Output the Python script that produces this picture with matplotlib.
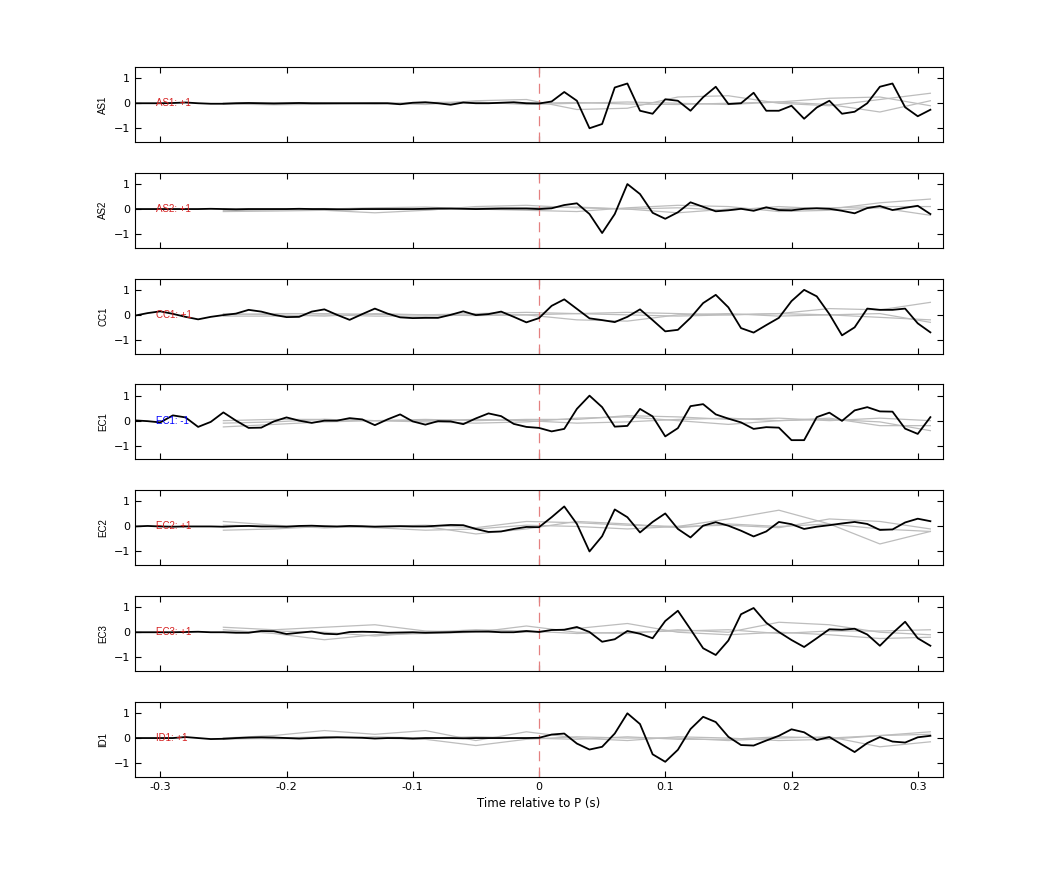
import numpy as np
import matplotlib.pyplot as plt

# time axis: -0.32 .. 0.31 s, 0.01 s steps
t = np.round(np.arange(-32, 32) * 0.01, 2)
t_gray = np.round(np.arange(-25, 32, 4) * 0.01, 2)

stations = ['AS1', 'AS2', 'CC1', 'EC1', 'EC2', 'EC3', 'ID1']
polarity = ['+1', '+1', '+1', '-1', '+1', '+1', '+1']

as1 = [0.0, 0.0, 0.0, 0.01, 0.03, 0.0, -0.02, -0.02, 0.0, 0.01, 0.0, -0.01, 0.0, 0.01, 0.0, 0.0,
       0.0, 0.0, 0.0, 0.0, 0.0, -0.04, 0.02, 0.04, 0.0, -0.06, 0.03, 0.0, 0.0, 0.02, 0.04, 0.0,
       -0.01, 0.07, 0.45, 0.1, -1.0, -0.83, 0.63, 0.79, -0.3, -0.42, 0.16, 0.1, -0.3, 0.24, 0.66, -0.03,
       0.0, 0.42, -0.3, -0.3, -0.1, -0.62, -0.17, 0.1, -0.42, -0.34, 0.0, 0.66, 0.79, -0.16, -0.52, -0.26]
as2 = [0.0, 0.0, 0.0, 0.0, 0.0, 0.0, 0.01, 0.0, -0.01, 0.0, 0.0, 0.0, 0.0, 0.01, 0.0, 0.0,
       -0.01, -0.01, 0.0, 0.0, 0.0, 0.0, 0.0, 0.01, 0.02, 0.02, 0.01, 0.0, 0.01, 0.02, 0.02, 0.02,
       0.0, 0.03, 0.16, 0.23, -0.2, -0.96, -0.2, 1.0, 0.6, -0.15, -0.39, -0.13, 0.27, 0.09, -0.09, -0.05,
       0.01, -0.07, 0.07, -0.04, -0.05, 0.01, 0.03, 0.01, -0.07, -0.17, 0.04, 0.12, -0.04, 0.05, 0.13, -0.2]
cc1 = [-0.03, 0.07, 0.14, 0.04, -0.08, -0.18, -0.08, -0.01, 0.05, 0.2, 0.13, 0.0, -0.09, -0.08, 0.13, 0.22,
       0.0, -0.2, 0.03, 0.25, 0.05, -0.1, -0.13, -0.12, -0.12, 0.0, 0.14, -0.01, 0.03, 0.13, -0.08, -0.3,
       -0.13, 0.36, 0.62, 0.24, -0.14, -0.21, -0.29, -0.08, 0.22, -0.21, -0.66, -0.6, -0.12, 0.47, 0.8, 0.3,
       -0.53, -0.71, -0.41, -0.12, 0.55, 1.0, 0.74, 0.03, -0.82, -0.5, 0.25, 0.2, 0.2, 0.25, -0.34, -0.7]
ec1 = [0.01, -0.02, -0.07, 0.21, 0.13, -0.25, -0.05, 0.33, 0.0, -0.29, -0.28, -0.03, 0.13, 0.0, -0.09, 0.0,
       0.0, 0.1, 0.05, -0.18, 0.05, 0.25, -0.03, -0.16, -0.02, -0.03, -0.14, 0.09, 0.29, 0.18, -0.13, -0.25,
       -0.29, -0.43, -0.33, 0.47, 1.0, 0.54, -0.24, -0.21, 0.47, 0.17, -0.63, -0.3, 0.58, 0.66, 0.25, 0.08,
       -0.07, -0.33, -0.26, -0.28, -0.78, -0.78, 0.14, 0.32, -0.01, 0.41, 0.54, 0.37, 0.36, -0.32, -0.53, 0.14]
ec2 = [0.0, 0.02, 0.0, -0.01, 0.0, 0.0, 0.0, -0.01, 0.01, 0.02, 0.0, 0.0, -0.01, 0.02, 0.03, 0.01,
       0.0, 0.02, 0.01, -0.01, 0.0, 0.01, 0.0, 0.0, 0.03, 0.06, 0.05, -0.1, -0.22, -0.2, -0.1, -0.02,
       -0.03, 0.37, 0.8, 0.1, -1.0, -0.39, 0.68, 0.37, -0.24, 0.18, 0.52, -0.1, -0.44, 0.03, 0.17, 0.03,
       -0.17, -0.4, -0.2, 0.18, 0.09, -0.1, -0.01, 0.05, 0.12, 0.18, 0.1, -0.14, -0.12, 0.16, 0.31, 0.21]
ec3 = [0.0, 0.0, 0.0, 0.0, 0.01, 0.02, 0.0, 0.0, -0.02, -0.02, 0.05, 0.04, -0.07, -0.02, 0.03, -0.06,
       -0.08, 0.01, 0.02, 0.01, -0.02, -0.01, 0.0, -0.02, -0.01, 0.0, 0.02, 0.03, 0.03, 0.0, 0.0, 0.05,
       0.01, 0.09, 0.1, 0.21, 0.01, -0.38, -0.28, 0.05, -0.06, -0.24, 0.45, 0.86, 0.12, -0.64, -0.91, -0.33,
       0.72, 0.97, 0.38, 0.01, -0.31, -0.59, -0.24, 0.12, 0.1, 0.14, -0.09, -0.54, -0.04, 0.42, -0.24, -0.54]
id1 = [0.0, 0.0, 0.0, 0.0, 0.04, 0.0, -0.04, -0.03, 0.0, 0.02, 0.03, 0.02, 0.0, -0.02, 0.0, 0.02,
       0.03, 0.02, 0.01, -0.02, 0.0, 0.0, -0.02, 0.0, 0.0, 0.0, -0.01, 0.0, 0.0, 0.0, 0.0, 0.0,
       0.01, 0.14, 0.18, -0.22, -0.46, -0.35, 0.18, 0.99, 0.56, -0.65, -0.95, -0.47, 0.36, 0.85, 0.64, 0.05,
       -0.28, -0.3, -0.1, 0.09, 0.35, 0.23, -0.08, 0.04, -0.26, -0.56, -0.2, 0.04, -0.14, -0.18, 0.03, 0.09]
traces = [as1, as2, cc1, ec1, ec2, ec3, id1]

# other stations' traces (grey), coarse samples
gray = [
    [[0.0, -0.02, 0.0, 0.02, -0.05, 0.1, 0.15, -0.25, -0.2, 0.25, 0.3, 0.0, -0.1, 0.15, 0.4],
     [-0.03, -0.06, -0.04, 0.0, 0.03, 0.05, -0.05, 0.0, 0.05, 0.0, -0.05, 0.05, 0.2, 0.25, -0.1],
     [0.0, 0.02, 0.0, -0.03, 0.0, 0.02, 0.0, 0.03, -0.03, -0.05, 0.0, 0.05, -0.05, -0.35, 0.1]],
    [[-0.1, -0.08, -0.05, -0.15, -0.05, 0.1, 0.15, 0.05, 0.0, 0.05, -0.05, 0.1, 0.0, 0.25, 0.4],
     [-0.06, -0.04, 0.0, 0.05, 0.08, 0.0, -0.05, -0.1, 0.05, 0.15, 0.1, -0.1, -0.05, 0.05, -0.25],
     [0.0, 0.0, 0.02, 0.0, -0.03, 0.04, 0.05, 0.08, 0.0, -0.15, 0.0, 0.02, 0.05, 0.1, 0.1]],
    [[0.0, 0.05, 0.05, 0.02, 0.0, 0.05, 0.1, 0.05, 0.0, -0.05, 0.0, 0.05, 0.25, 0.2, 0.5],
     [-0.05, -0.05, 0.0, -0.05, -0.05, 0.0, 0.0, -0.2, -0.25, 0.0, 0.05, -0.05, 0.0, 0.05, -0.3],
     [0.05, 0.0, -0.05, 0.05, 0.0, -0.03, 0.0, 0.05, 0.1, 0.05, 0.0, 0.05, 0.0, -0.1, -0.2]],
    [[0.0, 0.05, 0.05, 0.0, 0.05, 0.0, 0.05, 0.05, 0.2, 0.15, 0.05, 0.1, 0.0, 0.1, 0.0],
     [-0.25, -0.15, -0.05, 0.0, -0.05, -0.1, -0.05, 0.1, 0.15, 0.0, -0.15, 0.0, 0.05, -0.05, -0.4],
     [-0.1, -0.05, 0.05, 0.0, 0.0, 0.05, 0.0, -0.1, -0.05, 0.05, 0.1, 0.0, 0.1, -0.2, -0.2]],
    [[0.2, 0.05, -0.05, 0.0, 0.05, -0.05, 0.2, 0.15, 0.05, 0.0, 0.3, 0.65, 0.1, -0.7, -0.2],
     [-0.15, -0.1, 0.0, -0.05, -0.15, -0.1, 0.05, 0.0, -0.1, 0.0, 0.05, -0.05, 0.3, 0.2, -0.1],
     [0.05, 0.0, -0.05, 0.0, 0.0, -0.3, -0.1, 0.2, 0.1, -0.05, 0.1, 0.0, 0.1, -0.1, -0.2]],
    [[0.2, 0.1, 0.2, 0.3, 0.05, 0.0, 0.25, 0.0, -0.05, 0.1, 0.0, 0.4, 0.3, 0.0, -0.1],
     [0.1, -0.05, -0.3, -0.1, -0.05, 0.0, 0.0, 0.15, 0.35, 0.0, -0.1, 0.0, -0.1, -0.25, -0.2],
     [0.0, 0.05, 0.0, -0.15, 0.0, 0.1, 0.05, -0.05, 0.0, 0.05, 0.1, -0.05, 0.05, 0.05, 0.1]],
    [[0.0, 0.1, 0.3, 0.15, 0.3, -0.1, 0.25, 0.0, -0.1, 0.05, 0.0, -0.1, -0.05, 0.1, 0.15],
     [-0.05, 0.0, 0.05, 0.0, -0.05, -0.3, -0.05, 0.05, 0.0, 0.0, -0.1, 0.0, 0.05, -0.35, -0.15],
     [0.0, -0.03, 0.0, 0.05, 0.0, 0.05, 0.0, -0.05, 0.05, -0.05, -0.05, 0.05, 0.0, 0.1, 0.25]],
]

fig = plt.figure(figsize=(10.42, 8.75), dpi=100)
left, width, h, pitch, top0 = 135 / 1042, 808 / 1042, 75 / 875, 105.8 / 875, 67 / 875

for i, name in enumerate(stations):
    ax = fig.add_axes([left, 1 - top0 - i * pitch - h, width, h])
    for g in gray[i]:
        ax.plot(t_gray, g, color='#bdbdbd', lw=0.9)
    ax.axvline(0, color='#e48080', lw=0.9, ls=(0, (8, 5)))
    ax.plot(t, traces[i], color='black', lw=1.3)
    col = 'blue' if polarity[i] == '-1' else '#d62020'
    ax.text(-0.303, 0, f'{name}: {polarity[i]}', color=col, fontsize=7, va='center',
            family='Liberation Sans')
    ax.set_xlim(-0.32, 0.32)
    ax.set_ylim(-1.55, 1.45)
    ax.set_yticks([-1, 0, 1])
    ax.set_xticks([-0.3, -0.2, -0.1, 0, 0.1, 0.2, 0.3])
    ax.tick_params(direction='in', top=True, right=True, labelsize=8, length=4)
    ax.set_ylabel(name, fontsize=7, family='Liberation Sans')
    for s in ax.spines.values():
        s.set_linewidth(0.8)
    if i < len(stations) - 1:
        ax.set_xticklabels([])
    else:
        ax.set_xticklabels(['-0.3', '-0.2', '-0.1', '0', '0.1', '0.2', '0.3'])
        ax.set_xlabel('Time relative to P (s)', fontsize=8.5)

fig.savefig('out.png', dpi=100)
